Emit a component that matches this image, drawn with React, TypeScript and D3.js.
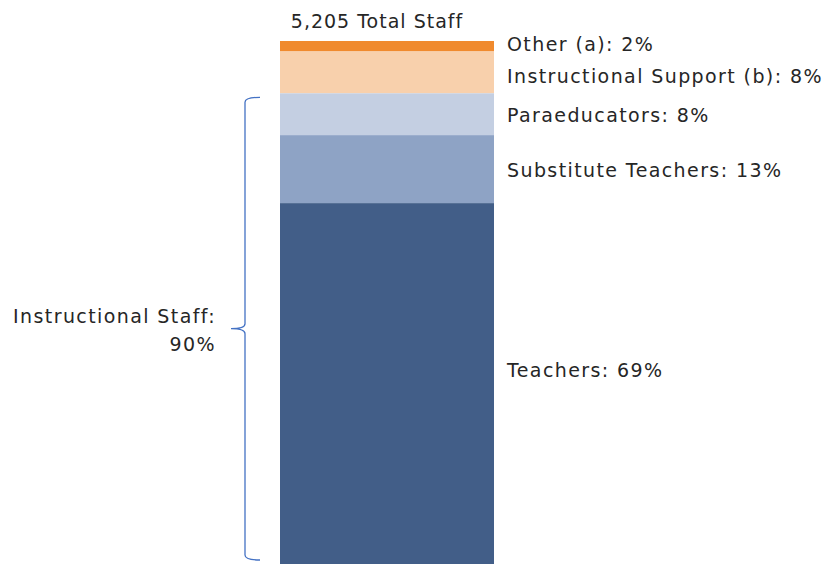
import * as d3 from "d3";

const categories = ["Other (a)", "Instructional Support (b)", "Paraeducators", "Substitute Teachers", "Teachers"];
const shares = [2, 8, 8, 13, 69];
const colors = ["#F08A2E", "#F8D0AC", "#C4CFE2", "#8EA3C5", "#425E88"];
const labelDy = [-2, 4, 1, 1, -14];
const totalLabel = "5,205 Total Staff";
const groupLabel = ["Instructional Staff:", "90%"];
const groupMembers = ["Paraeducators", "Substitute Teachers", "Teachers"];

export default function App() {
  const width = 827;
  const height = 564;
  const barLeft = 280;
  const barWidth = 214;
  const top = 41;
  const bottom = 564;

  const y = d3.scaleLinear([0, d3.sum(shares)], [top, bottom]);

  // stack top-down
  let acc = 0;
  const segs = categories.map((c, i) => {
    const s = { name: c, v: shares[i], y0: y(acc), y1: y(acc + shares[i]), color: colors[i] };
    acc += shares[i];
    return s;
  });

  const grp = segs.filter(s => groupMembers.includes(s.name));
  const gTop = d3.min(grp, s => s.y0)! + 4;
  const gBot = d3.max(grp, s => s.y1)! - 4;
  const gMid = (gTop + gBot) / 2;
  const bx = 245;
  const bEnd = 260;
  const tip = 231;
  const r = 5;

  const brace = d3.path();
  brace.moveTo(bEnd, gTop);
  brace.quadraticCurveTo(bx, gTop, bx, gTop + r);
  brace.lineTo(bx, gMid - r);
  brace.quadraticCurveTo(bx, gMid, tip, gMid);
  brace.quadraticCurveTo(bx, gMid, bx, gMid + r);
  brace.lineTo(bx, gBot - r);
  brace.quadraticCurveTo(bx, gBot, bEnd, gBot);

  const font = "DejaVu Sans, sans-serif";
  const fs = 19;
  const ls = 1.4;

  return (
    <svg width={width} height={height} style={{ position: "absolute", left: 0, top: 0 }}
      fontFamily={font} fill="#262626">
      <rect width={width} height={height} fill="#fff" />
      {segs.map(s => (
        <rect key={s.name} x={barLeft} y={s.y0} width={barWidth} height={s.y1 - s.y0} fill={s.color} />
      ))}
      {segs.map((s, i) => (
        <text key={s.name + "l"} x={barLeft + barWidth + 13} y={(s.y0 + s.y1) / 2 + labelDy[i]}
          dominantBaseline="central" fontSize={fs} letterSpacing={ls}>
          {`${s.name}: ${s.v}%`}
        </text>
      ))}
      <text x={377} y={28} textAnchor="middle" fontSize={fs} letterSpacing={1}>{totalLabel}</text>
      <path d={brace.toString()} fill="none" stroke="#4472C4" strokeWidth={1.3} />
      <text x={216} y={gMid - 6} textAnchor="end" fontSize={fs} letterSpacing={ls}>{groupLabel[0]}</text>
      <text x={216} y={gMid + 22} textAnchor="end" fontSize={fs} letterSpacing={ls}>{groupLabel[1]}</text>
    </svg>
  );
}
